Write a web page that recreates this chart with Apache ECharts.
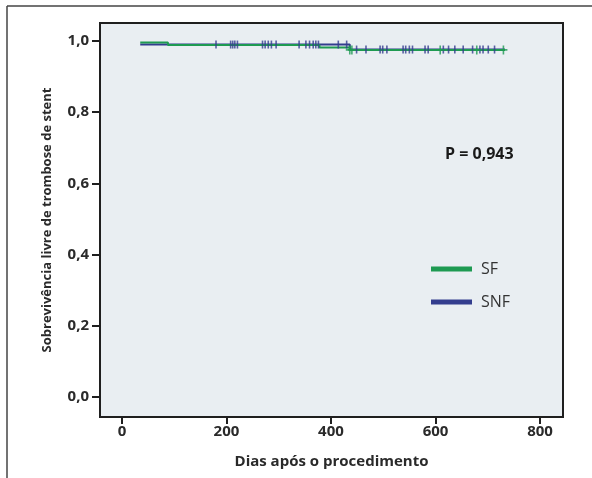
<!DOCTYPE html>
<html>
<head>
<meta charset="utf-8">
<script src="https://cdn.jsdelivr.net/npm/echarts@6/dist/echarts.min.js"></script>
<style>
html,body{margin:0;padding:0;background:#fff;}
#c{width:592px;height:478px;}
</style>
</head>
<body>
<div id="c"></div>
<script>
// Kaplan-Meier step points: [day, survival]
var sfSteps = [[35, 0.996], [88, 0.989], [378, 0.982], [436, 0.975], [733, 0.975]];
var snfSteps = [[35, 0.990], [436, 0.976], [733, 0.976]];
// censored observations (days)
var sfCensored = [436, 440, 609, 679, 730];
var snfCensored = [180, 208, 212, 216, 221, 269, 274, 280, 286, 295, 339, 352, 359, 366, 371, 376,
  414, 430, 449, 467, 494, 499, 507, 538, 543, 550, 556, 580, 586, 615, 625, 637, 653, 671, 685, 691, 701, 713];
var xTicks = [0, 200, 400, 600, 800];
var yTicks = [0, 0.2, 0.4, 0.6, 0.8, 1.0];
var seriesNames = ['SF', 'SNF'];
var pText = 'P = 0,943';

function survAt(steps, t) {
  var v = steps[0][1];
  for (var i = 0; i < steps.length; i++) { if (steps[i][0] <= t) v = steps[i][1]; }
  return v;
}
var GREEN = '#1e9a52', BLUE = '#333d8e';
var font = '"Open Sans", "DejaVu Sans", sans-serif';
var chart = echarts.init(document.getElementById('c'));
chart.setOption({
  backgroundColor: '#ffffff',
  animation: false,
  grid: { left: 100, top: 23, width: 463, height: 394, show: true, backgroundColor: '#e9eef2',
    borderColor: '#1f1f1f', borderWidth: 2, containLabel: false },
  xAxis: {
    type: 'value', min: -42, max: 844,
    splitLine: { show: false },
    axisLine: { show: true, onZero: false, lineStyle: { color: '#1f1f1f', width: 2 } },
    axisTick: { show: true, customValues: xTicks, length: 7, lineStyle: { color: '#1f1f1f', width: 2 } },
    axisLabel: { customValues: xTicks, color: '#2a2a2a', fontWeight: 'bold', fontSize: 15, fontFamily: font, margin: 7 },
    name: 'Dias após o procedimento', nameLocation: 'middle', nameGap: 37,
    nameTextStyle: { color: '#2a2a2a', fontWeight: 'bold', fontSize: 15, fontFamily: font }
  },
  yAxis: {
    type: 'value', min: -0.057, max: 1.0506,
    splitLine: { show: false },
    axisLine: { show: true, onZero: false, lineStyle: { color: '#1f1f1f', width: 2 } },
    axisTick: { show: true, customValues: yTicks, length: 8, lineStyle: { color: '#1f1f1f', width: 2 } },
    axisLabel: { customValues: yTicks, color: '#2a2a2a', fontWeight: 'bold', fontSize: 15, fontFamily: font, margin: 11,
      formatter: function (v) { return v.toFixed(1).replace('.', ','); } },
    name: 'Sobrevivência livre de trombose de stent', nameLocation: 'middle', nameGap: 46,
    nameTextStyle: { color: '#2a2a2a', fontWeight: 'bold', fontSize: 13, fontFamily: font }
  },
  legend: {
    orient: 'vertical', left: 426, top: 256, itemWidth: 41, itemHeight: 5, itemGap: 17,
    icon: 'rect',
    textStyle: { color: '#333', fontSize: 16, fontFamily: font, padding: [0, 0, 0, 4] },
    data: [{ name: seriesNames[0], itemStyle: { color: GREEN } }, { name: seriesNames[1], itemStyle: { color: BLUE } }]
  },
  graphic: [
    { type: 'line', shape: { x1: 7, y1: 6, x2: 592, y2: 6 }, style: { stroke: '#444', lineWidth: 1.5 } },
    { type: 'line', shape: { x1: 7, y1: 6, x2: 7, y2: 478 }, style: { stroke: '#444', lineWidth: 1.5 } },
    { type: 'text', left: 445, top: 146, style: { text: pText, fill: '#1a1a1a', font: 'bold 16px ' + font } }
  ],
  series: [
    { name: seriesNames[1], type: 'line', step: 'end', data: snfSteps, showSymbol: false, z: 3,
      lineStyle: { color: BLUE, width: 2 }, itemStyle: { color: BLUE } },
    { name: seriesNames[0], type: 'line', step: 'end', data: sfSteps, showSymbol: false, z: 4,
      lineStyle: { color: GREEN, width: 2 }, itemStyle: { color: GREEN } },
    { name: seriesNames[1], type: 'scatter', z: 5, symbol: 'rect', symbolSize: [1.6, 8],
      itemStyle: { color: BLUE }, data: snfCensored.map(function (t) { return [t, survAt(snfSteps, t)]; }) },
    { name: seriesNames[0], type: 'scatter', z: 6,
      symbol: 'path://M4,0 L6,0 L6,4 L10,4 L10,6 L6,6 L6,10 L4,10 L4,6 L0,6 L0,4 L4,4 Z', symbolSize: [8, 9],
      itemStyle: { color: GREEN }, data: sfCensored.map(function (t) { return [t, survAt(sfSteps, t)]; }) }
  ]
});
</script>
</body>
</html>
